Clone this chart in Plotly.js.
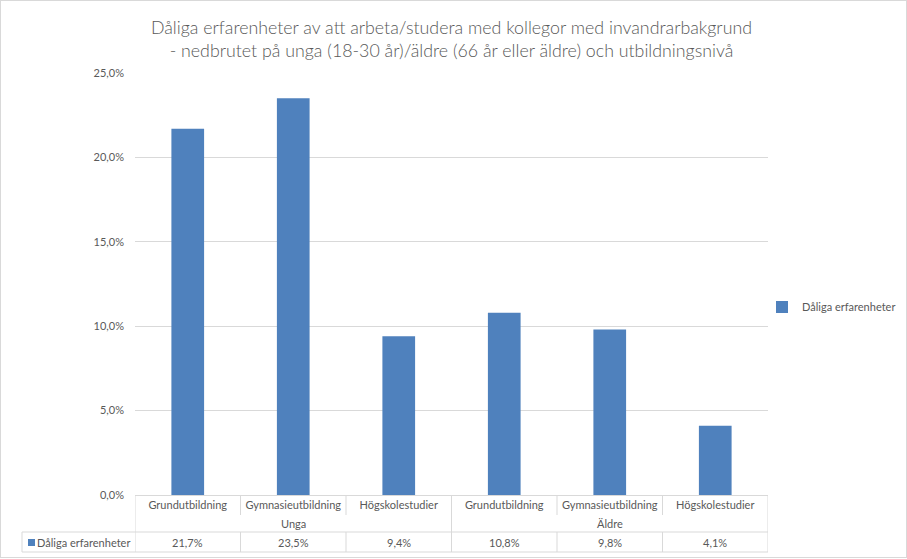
<!DOCTYPE html>
<html>
<head>
<meta charset="utf-8">
<script src="https://cdn.plot.ly/plotly-3.0.1.min.js"></script>
<style>
  html, body { margin: 0; padding: 0; background: #fff; }
  #wrap { position: relative; width: 907px; height: 559px; }
  #chart { width: 907px; height: 559px; }
  #frame { position: absolute; left: 0; top: 0; width: 905px; height: 556px; border: 1px solid #d9d9d9; pointer-events: none; }
</style>
</head>
<body>
<div id="wrap"><div id="chart"></div><div id="frame"></div></div>
<script>
const titleText = 'Dåliga erfarenheter av att arbeta/studera med kollegor med invandrarbakgrund<br>- nedbrutet på unga (18-30 år)/äldre (66 år eller äldre) och utbildningsnivå';
const seriesName = 'Dåliga erfarenheter';
const categories = ['Grundutbildning', 'Gymnasieutbildning', 'Högskolestudier', 'Grundutbildning', 'Gymnasieutbildning', 'Högskolestudier'];
const groups = ['Unga', 'Äldre'];
const groupSizes = [3, 3];
const values = [21.7, 23.5, 9.4, 10.8, 9.8, 4.1];
const yTicks = [0, 5, 10, 15, 20, 25];

const FONT = 'Lato, "Open Sans", sans-serif';
const GREY = '#595959';
const LINE = '#d9d9d9';
const BAR = '#4f81bd';

const W = 907, H = 559;
const M = {l: 135, r: 139, t: 73, b: 64, autoexpand: false};
const plotW = W - M.l - M.r, plotH = H - M.t - M.b;
const py = px => (H - M.b - px) / plotH;      // pixel y -> paper y
const pxX = px => (px - M.l) / plotW;          // pixel x -> paper x

const xs = categories.map((_, i) => i);
const fmt = v => v.toFixed(1).replace('.', ',') + '%';

const shapes = [];
const annotations = [];
const n = categories.length;
const rowTop = 495, rowMid1 = 515, rowSep = 532, rowBot = 552;
const TS = 11;

function lineShape(x0, y0, x1, y1, xref) {
  shapes.push({type: 'line', xref: xref, yref: 'paper', x0: x0, x1: x1, y0: py(y0), y1: py(y1),
    line: {color: LINE, width: 1}});
}
// outer vertical borders of the table
lineShape(-0.5, rowTop, -0.5, rowBot, 'x');
lineShape(n - 0.5, rowTop, n - 0.5, rowBot, 'x');
// horizontal separators
lineShape(pxX(22), rowSep, 1, rowSep, 'paper');
lineShape(pxX(22), rowBot, 1, rowBot, 'paper');
lineShape(pxX(22), rowSep, pxX(22), rowBot, 'paper');
// inner verticals
let idx = 0;
const groupEnds = [];
groupSizes.forEach(s => { idx += s; groupEnds.push(idx - 1); });
for (let i = 0; i < n - 1; i++) {
  const xb = i + 0.5;
  if (groupEnds.includes(i)) {
    lineShape(xb, rowTop, xb, rowBot, 'x');
  } else {
    lineShape(xb, rowTop, xb, rowMid1, 'x');
    lineShape(xb, rowSep, xb, rowBot, 'x');
  }
}
// group labels
let start = 0;
groups.forEach((g, gi) => {
  const center = start + (groupSizes[gi] - 1) / 2;
  annotations.push({xref: 'x', yref: 'paper', x: center, y: py(523), text: g, showarrow: false,
    xanchor: 'center', yanchor: 'middle', font: {family: FONT, size: TS, color: GREY}});
  start += groupSizes[gi];
});
// value row
values.forEach((v, i) => {
  annotations.push({xref: 'x', yref: 'paper', x: i, y: py(542), text: fmt(v), showarrow: false,
    xanchor: 'center', yanchor: 'middle', font: {family: FONT, size: TS, color: GREY}});
});
// legend key in table
shapes.push({type: 'rect', xref: 'paper', yref: 'paper', x0: pxX(28), x1: pxX(35), y0: py(546), y1: py(539),
  fillcolor: BAR, line: {width: 0}});
annotations.push({xref: 'paper', yref: 'paper', x: pxX(35), y: py(542), text: seriesName, showarrow: false,
  xanchor: 'left', yanchor: 'middle', font: {family: FONT, size: TS, color: GREY}});

const trace = {
  type: 'bar', x: xs, y: values, name: seriesName, width: 0.31,
  marker: {color: BAR}, hoverinfo: 'skip'
};

const layout = {
  width: W, height: H,
  margin: M,
  paper_bgcolor: '#fff', plot_bgcolor: '#fff',
  separators: ', ',
  font: {family: FONT, color: GREY},
  title: {text: titleText, x: 0.5, xref: 'paper', xanchor: 'center', yref: 'container', y: 1 - 34 / H, yanchor: 'middle',
    font: {family: FONT, size: 17.8, color: GREY, weight: 300}},
  xaxis: {range: [-0.5, n - 0.5], tickvals: xs, ticktext: categories, ticks: '',
    showgrid: false, zeroline: false, showline: false, fixedrange: true, automargin: false,
    tickfont: {family: FONT, size: TS, color: GREY}, ticklabelstandoff: 2},
  yaxis: {range: [0, 25], tickvals: yTicks, ticktext: yTicks.map(fmt), automargin: false,
    showgrid: true, gridcolor: LINE, gridwidth: 1, zeroline: true, zerolinecolor: LINE, zerolinewidth: 1,
    showline: false, ticks: '', tickfont: {family: FONT, size: TS, color: GREY}, ticklabelstandoff: 10},
  showlegend: true,
  legend: {x: pxX(762), y: py(307), xanchor: 'left', yanchor: 'middle', font: {family: FONT, size: TS, color: GREY},
    itemwidth: 30, bgcolor: 'rgba(0,0,0,0)'},
  shapes: shapes,
  annotations: annotations
};

Plotly.newPlot('chart', [trace], layout, {displayModeBar: false, staticPlot: true});
</script>
</body>
</html>
